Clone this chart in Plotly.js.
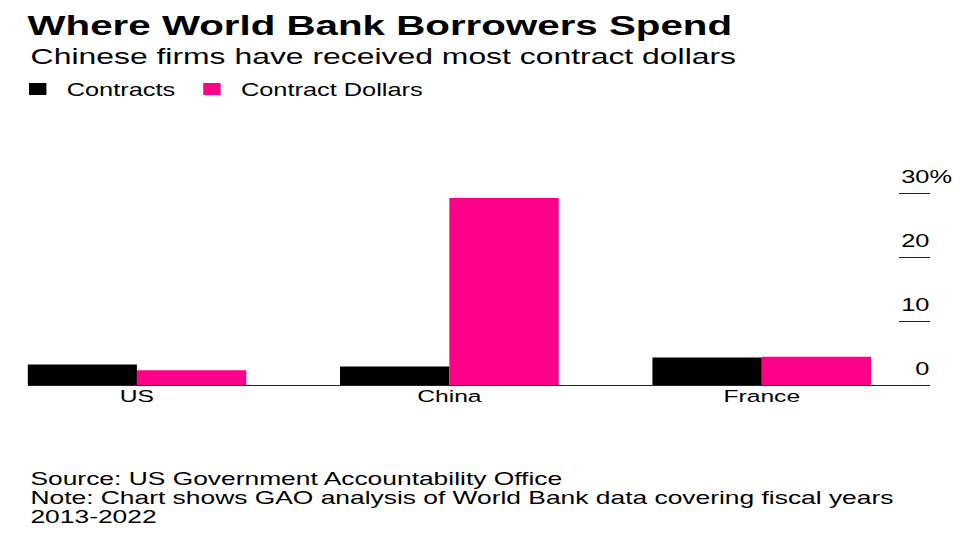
<!DOCTYPE html>
<html>
<head>
<meta charset="utf-8">
<script src="https://cdn.plot.ly/plotly-3.0.1.min.js"></script>
<style>
  html, body { margin: 0; padding: 0; background: #ffffff; overflow: hidden; width: 960px; height: 540px; }
  /* the reference artwork is horizontally stretched; reproduce that by
     drawing at a narrower width and stretching the whole chart */
  #chart { width: 662px; height: 540px; transform: scaleX(1.4502); transform-origin: 0 0; }
</style>
</head>
<body>
<div id="chart"></div>
<script>
// ---- Data ----
const countries = ["US", "China", "France"];
const contractsShare = [3.2, 2.9, 4.3];        // % of contracts
const contractDollarsShare = [2.3, 29.2, 4.4]; // % of contract dollars
const seriesNames = ["Contracts", "Contract Dollars"];
const yTickValues = [0, 10, 20, 30];
const yTickLabels = ["0", "10", "20", "30%"];

const titleText = "Where World Bank Borrowers Spend";
const subtitleText = "Chinese firms have received most contract dollars";
const sourceText = "Source: US Government Accountability Office";
const noteText = "Note: Chart shows GAO analysis of World Bank data covering fiscal years";
const noteText2 = "2013-2022";

// ---- Styles ----
const FONT = "Liberation Sans, Arial, Helvetica, sans-serif";
const BLACK = "#000000";
const PINK = "#ff0088";
const W = 662, H = 540;

// hidden % keeps numbers right-aligned while "%" hangs past them
const hidden = '<span style="color:rgba(0,0,0,0)">%</span>';
const yTickText = yTickLabels.map(t => t.endsWith("%") ? t : t + hidden);

const traces = [
  {
    type: "bar",
    name: seriesNames[0],
    x: countries,
    y: contractsShare,
    marker: { color: BLACK },
    hoverinfo: "skip"
  },
  {
    type: "bar",
    name: seriesNames[1],
    x: countries,
    y: contractDollarsShare,
    marker: { color: PINK },
    hoverinfo: "skip"
  }
];

const M = { l: 19, r: 21, t: 161, b: 155 };
// helper: container pixel (in unstretched frame) -> paper fraction
const px2paperX = px => (px - M.l) / (W - M.l - M.r);
const py2paperY = py => (H - M.b - py) / (H - M.t - M.b);

function note(text, yc, size) {
  return {
    text: text,
    xref: "paper", yref: "paper",
    x: px2paperX(19), y: py2paperY(yc),
    xanchor: "left", yanchor: "middle",
    showarrow: false,
    font: { family: FONT, size: size, color: BLACK }
  };
}

const layout = {
  width: W,
  height: H,
  paper_bgcolor: "#ffffff",
  plot_bgcolor: "#ffffff",
  margin: M,
  barmode: "group",
  bargap: 0.3,
  bargroupgap: 0,
  font: { family: FONT, color: BLACK, size: 17 },
  title: {
    text: titleText,
    font: { family: FONT, size: 27.8, weight: "bold", color: BLACK },
    xref: "container", yref: "container",
    x: 19 / W, xanchor: "left",
    y: 1 - 25 / H, yanchor: "middle"
  },
  showlegend: true,
  legend: {
    orientation: "h",
    x: 6 / W, xanchor: "left",
    xref: "container",
    y: 1 - 89 / H, yanchor: "middle",
    yref: "container",
    font: { family: FONT, size: 17.5, color: BLACK },
    itemwidth: 30,
    traceorder: "normal",
    bgcolor: "rgba(0,0,0,0)"
  },
  xaxis: {
    type: "category",
    range: [-0.35, 2.537],
    showgrid: false,
    zeroline: false,
    showline: true,
    linecolor: "#222222",
    linewidth: 1,
    ticks: "",
    ticklabelstandoff: -4,
    tickfont: { family: FONT, size: 17, color: BLACK },
    fixedrange: true
  },
  yaxis: {
    range: [0, 35],
    side: "right",
    showgrid: false,
    zeroline: false,
    showline: false,
    tickmode: "array",
    tickvals: yTickValues,
    ticktext: yTickText,
    ticks: "inside",
    ticklen: 21,
    tickwidth: 1,
    tickcolor: "#222222",
    ticklabelposition: "inside",
    ticklabelshift: -16,
    ticklabelstandoff: -36,
    tickfont: { family: FONT, size: 17.5, color: BLACK },
    fixedrange: true
  },
  annotations: [
    note(subtitleText, 56.3, 22),
    note(sourceText, 479, 18.2),
    note(noteText, 498, 18.2),
    note(noteText2, 517, 18.2)
  ]
};

Plotly.newPlot("chart", traces, layout, { displayModeBar: false, staticPlot: true });
</script>
</body>
</html>
